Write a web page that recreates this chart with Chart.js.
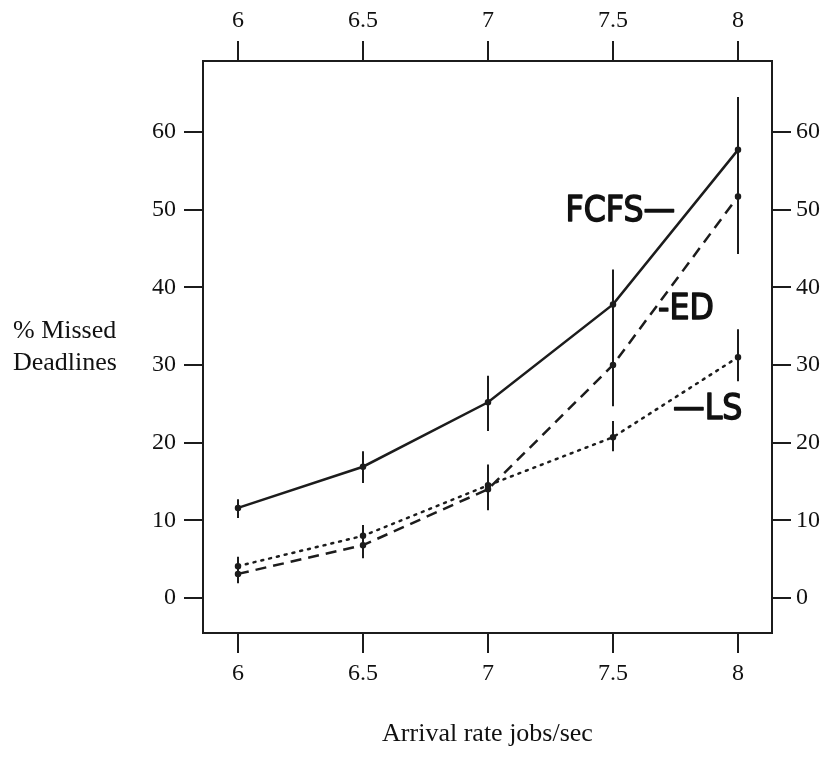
<!DOCTYPE html>
<html lang="en">
<head>
    <meta charset="UTF-8">
    <title>Missed deadlines vs arrival rate</title>
    <script src="https://cdn.jsdelivr.net/npm/chart.js"></script>
    <style>
        body { margin: 0; background: #fff; }
        canvas { display: block; }
    </style>
</head>
<body>
    <canvas id="chart" width="830" height="759"></canvas>

    <script>
        // arrival rates (jobs/sec)
        const rates = [6, 6.5, 7, 7.5, 8];
        const yTicks = [0, 10, 20, 30, 40, 50, 60];

        // % missed deadlines, with the ends of the error bars
        const fcfs   = [11.6, 16.9, 25.2, 37.8, 57.7];
        const fcfsLo = [10.3, 14.8, 21.5, 33.5, 51.0];
        const fcfsHi = [12.7, 18.9, 28.6, 42.3, 64.5];

        const ed   = [3.1, 6.8, 14.0, 30.0, 51.7];
        const edLo = [1.9, 5.1, 11.3, 24.7, 44.3];
        const edHi = [5.3, 9.4, 17.2, 35.5, 58.0];

        const ls   = [4.1, 8.0, 14.5, 20.7, 31.0];
        const lsLo = [null, null, null, 18.9, 27.9];
        const lsHi = [null, null, null, 22.8, 34.6];

        // hand-written curve names, anchored in data units
        const curveNames = [
            { text: 'FCFS\u2014', x: 7.31, y: 49.8 },
            { text: '-ED', x: 7.68, y: 37.1 },
            { text: '\u2014LS', x: 7.74, y: 24.2 }
        ];

        const ink = '#1c1c1c';
        const serif = '"Liberation Serif", "Times New Roman", serif';
        const tickFont = { family: serif, size: 24 };

        function series(values) {
            return values.map((v, i) => ({ x: rates[i], y: v }));
        }

        const errorBars = {
            id: 'errorBars',
            afterDatasetsDraw(chart) {
                const ctx = chart.ctx;
                const xs = chart.scales.x, ys = chart.scales.y;
                ctx.save();
                ctx.strokeStyle = ink;
                ctx.lineWidth = 2;
                chart.data.datasets.forEach(ds => {
                    ds.lo.forEach((lo, i) => {
                        const hi = ds.hi[i];
                        if (lo == null || hi == null) return;
                        const px = xs.getPixelForValue(rates[i]);
                        ctx.beginPath();
                        ctx.moveTo(px, ys.getPixelForValue(lo));
                        ctx.lineTo(px, ys.getPixelForValue(hi));
                        ctx.stroke();
                    });
                });
                ctx.restore();
            }
        };

        const texts = {
            id: 'texts',
            afterDraw(chart) {
                const ctx = chart.ctx;
                const xs = chart.scales.x, ys = chart.scales.y;
                const area = chart.chartArea;
                ctx.save();
                ctx.fillStyle = '#111';

                // axis titles
                ctx.font = '26px ' + serif;
                ctx.textAlign = 'center';
                ctx.textBaseline = 'alphabetic';
                ctx.fillText('Arrival rate jobs/sec', (area.left + area.right) / 2, 741);
                ctx.textAlign = 'left';
                ctx.fillText('% Missed', 13, 338);
                ctx.fillText('Deadlines', 13, 370);

                // curve names, squeezed and thickened a bit like marker lettering
                ctx.font = '36px "DejaVu Sans", sans-serif';
                ctx.textBaseline = 'middle';
                ctx.strokeStyle = '#111';
                ctx.lineWidth = 1.5;
                ctx.lineJoin = 'round';
                curveNames.forEach(n => {
                    const px = xs.getPixelForValue(n.x), py = ys.getPixelForValue(n.y);
                    ctx.save();
                    ctx.translate(px, py);
                    ctx.scale(0.88, 1);
                    ctx.fillText(n.text, 0, 0);
                    ctx.strokeText(n.text, 0, 0);
                    ctx.restore();
                });
                ctx.restore();
            }
        };

        function xAxis(position, height, padding) {
            return {
                type: 'linear',
                position: position,
                min: 5.86,
                max: 8.136,
                grid: { drawOnChartArea: false, drawTicks: true, tickLength: 20, color: ink, lineWidth: 2 },
                border: { display: true, color: ink, width: 2 },
                ticks: {
                    color: '#111',
                    font: tickFont,
                    padding: padding,
                    maxRotation: 0,
                    callback: v => String(v)
                },
                afterBuildTicks: s => { s.ticks = rates.map(v => ({ value: v })); },
                afterFit: s => { s.height = height; }
            };
        }

        function yAxis(position, width, padding) {
            return {
                type: 'linear',
                position: position,
                min: -4.51,
                max: 69.14,
                grid: { drawOnChartArea: false, drawTicks: true, tickLength: 19, color: ink, lineWidth: 2 },
                border: { display: true, color: ink, width: 2 },
                ticks: {
                    color: '#111',
                    font: tickFont,
                    padding: padding,
                    callback: v => String(v)
                },
                afterBuildTicks: s => { s.ticks = yTicks.map(v => ({ value: v })); },
                afterFit: s => { s.width = width; }
            };
        }

        const chart = new Chart(document.getElementById('chart'), {
            type: 'line',
            data: {
                datasets: [{
                    label: 'FCFS',
                    data: series(fcfs),
                    lo: fcfsLo, hi: fcfsHi,
                    borderColor: ink,
                    borderWidth: 2.5
                }, {
                    label: 'ED',
                    data: series(ed),
                    lo: edLo, hi: edHi,
                    borderColor: ink,
                    borderWidth: 2.5,
                    borderDash: [11, 7]
                }, {
                    label: 'LS',
                    data: series(ls),
                    lo: lsLo, hi: lsHi,
                    borderColor: ink,
                    borderWidth: 2.5,
                    borderDash: [2, 6],
                    borderCapStyle: 'round'
                }]
            },
            options: {
                responsive: false,
                devicePixelRatio: 1,
                animation: false,
                layout: { padding: 0 },
                elements: {
                    point: { radius: 2, backgroundColor: ink, borderColor: ink, borderWidth: 0 },
                    line: { tension: 0, fill: false }
                },
                plugins: {
                    legend: { display: false },
                    tooltip: { enabled: false }
                },
                scales: {
                    x: xAxis('bottom', 126, 6),
                    xTop: xAxis('top', 61, 6),
                    y: yAxis('left', 203, 8),
                    yRight: yAxis('right', 58, 5)
                }
            },
            plugins: [errorBars, texts]
        });
    </script>
</body>
</html>
